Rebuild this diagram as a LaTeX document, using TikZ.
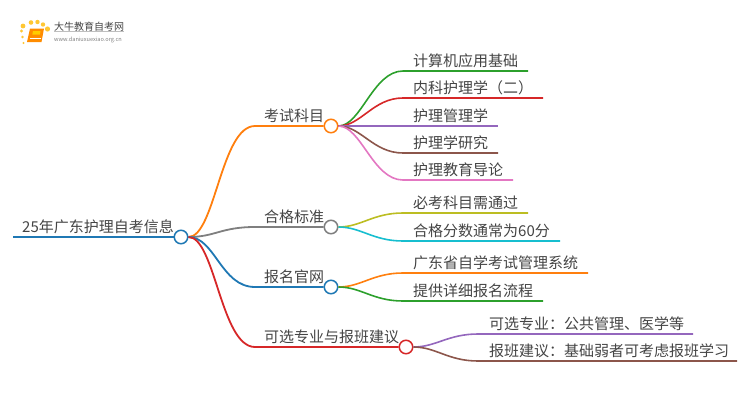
\documentclass[tikz,border=0pt]{standalone}
\usepackage{fontspec}
\setmainfont{Noto Sans CJK SC}
\definecolor{txt}{HTML}{444444}
\definecolor{cblue}{HTML}{1F78B4}
\definecolor{corange}{HTML}{FF7F0E}
\definecolor{cgray}{HTML}{7F7F7F}
\definecolor{cred}{HTML}{D62728}
\definecolor{cgreen}{HTML}{2CA02C}
\definecolor{cpurple}{HTML}{9467BD}
\definecolor{cbrown}{HTML}{8C564B}
\definecolor{cpink}{HTML}{E377C2}
\definecolor{colive}{HTML}{BCBD22}
\definecolor{ccyan}{HTML}{17BECF}
\tikzset{
    hub/.style={circle, draw, line width=1.5pt, fill=white, minimum size=13.5pt, inner sep=0pt},
    label/.style={anchor=base west, inner sep=0pt, text=txt, font=\fontsize{15}{15}\selectfont},
    branch/.style={line width=1.8pt},
    twig/.style={line width=1.6pt},
}
\begin{document}
\begin{tikzpicture}[x=1pt, y=-1pt]
            \useasboundingbox (0,0) rectangle (750,410);
            % logo:
            \foreach \dx/\dy/\dr in {23/26/2.4, 31/22.5/2.3, 37.5/22/2.2, 43/24.5/2.2, 47.5/29/2.6, 21.5/31/1.7, 22.5/37/1.4, 23.5/43/1.1}
                \fill[orange!55!yellow, opacity=0.8] (\dx,\dy) circle (\dr);
            \fill[orange!90!yellow] (30,28.5) -- (44,28.5) -- (41.5,42) -- (27,42) -- cycle;
            \fill[orange!40!yellow] (33,31) -- (40.5,31) -- (40,34.5) -- (32.3,34.5) -- cycle;
            \draw[white, line width=0.7pt] (29.5,38.5) -- (41,38.5);
            \node[anchor=base west, inner sep=0pt, text=txt, font=\fontsize{10}{10}\selectfont] (logotitle) at (54,30) {大牛教育自考网};
            \node[anchor=base west, inner sep=0pt, text=gray, font=\fontsize{5.6}{6}\selectfont] (logoweb) at (54,41.5) {www.daniuxuexiao.org.cn};
            \draw[gray!50, line width=0.4pt] (logotitle.south west) -- (logotitle.south east);
            % Hauptknoten:
            \coordinate (rootstart) at (13,237);
            \node[hub, draw=cblue] (root) at (181,237) {};
            \node[hub, draw=corange] (kemu) at (331,126) {};
            \node[hub, draw=cgray] (biaozhun) at (331,227) {};
            \node[hub, draw=cblue] (guanwang) at (331,287) {};
            \node[hub, draw=cred] (jianyi) at (406,347) {};
            \coordinate (kemubend) at (255,126);
            \coordinate (biaozhunbend) at (255,227);
            \coordinate (guanwangbend) at (255,287);
            \coordinate (jianyibend) at (255,347);
            \draw[branch, cblue] (rootstart) -- (root);
            \draw[branch, corange] (root) .. controls +(34,0) and +(-34,0) .. (kemubend) -- (kemu);
            \draw[branch, cgray] (root) .. controls +(34,0) and +(-34,0) .. (biaozhunbend) -- (biaozhun);
            \draw[branch, cblue] (root) .. controls +(34,0) and +(-34,0) .. (guanwangbend) -- (guanwang);
            \draw[branch, cred] (root) .. controls +(34,0) and +(-34,0) .. (jianyibend) -- (jianyi);
            \node[label] (roottext) at (22,232) {25年广东护理自考信息};
            \node[label] (kemutext) at (264,121) {考试科目};
            \node[label] (biaozhuntext) at (264,222) {合格标准};
            \node[label] (guanwangtext) at (264,282) {报名官网};
            \node[label] (jianyitext) at (264,342) {可选专业与报班建议};
            % Blaetter:
            \foreach \name/\col/\y/\x/\txt in {
                    jisuanji/cgreen/71/528/计算机应用基础,
                    neike/cred/98/543/内科护理学（二）,
                    guanli/cpurple/126/498/护理管理学,
                    yanjiu/cbrown/153/498/护理学研究,
                    daolun/cpink/180/513/护理教育导论}{
                \coordinate (\name bend) at (403,\y);
                \coordinate (\name end) at (\x,\y);
                \draw[twig, \col] (kemu) .. controls +(30,0) and +(-30,0) .. (\name bend) -- (\name end);
                \node[label] (\name) at (413,\y-5) {\txt};
            }
            \foreach \name/\col/\y/\x/\txt in {
                    bikao/colive/213/528/必考科目需通过,
                    fenshu/ccyan/241/560/合格分数通常为60分}{
                \coordinate (\name bend) at (403,\y);
                \coordinate (\name end) at (\x,\y);
                \draw[twig, \col] (biaozhun) .. controls +(30,0) and +(-30,0) .. (\name bend) -- (\name end);
                \node[label] (\name) at (413,\y-5) {\txt};
            }
            \foreach \name/\col/\y/\x/\txt in {
                    xitong/corange/273/588/广东省自学考试管理系统,
                    liucheng/cgreen/301/543/提供详细报名流程}{
                \coordinate (\name bend) at (403,\y);
                \coordinate (\name end) at (\x,\y);
                \draw[twig, \col] (guanwang) .. controls +(30,0) and +(-30,0) .. (\name bend) -- (\name end);
                \node[label] (\name) at (413,\y-5) {\txt};
            }
            \foreach \name/\col/\y/\x/\txt in {
                    zhuanye/cpurple/334/693/可选专业：公共管理、医学等,
                    baoban/cbrown/361/737/报班建议：基础弱者可考虑报班学习}{
                \coordinate (\name bend) at (478,\y);
                \coordinate (\name end) at (\x,\y);
                \draw[twig, \col] (jianyi) .. controls +(30,0) and +(-30,0) .. (\name bend) -- (\name end);
                \node[label] (\name) at (489,\y-5) {\txt};
            }
\end{tikzpicture}
\end{document}
